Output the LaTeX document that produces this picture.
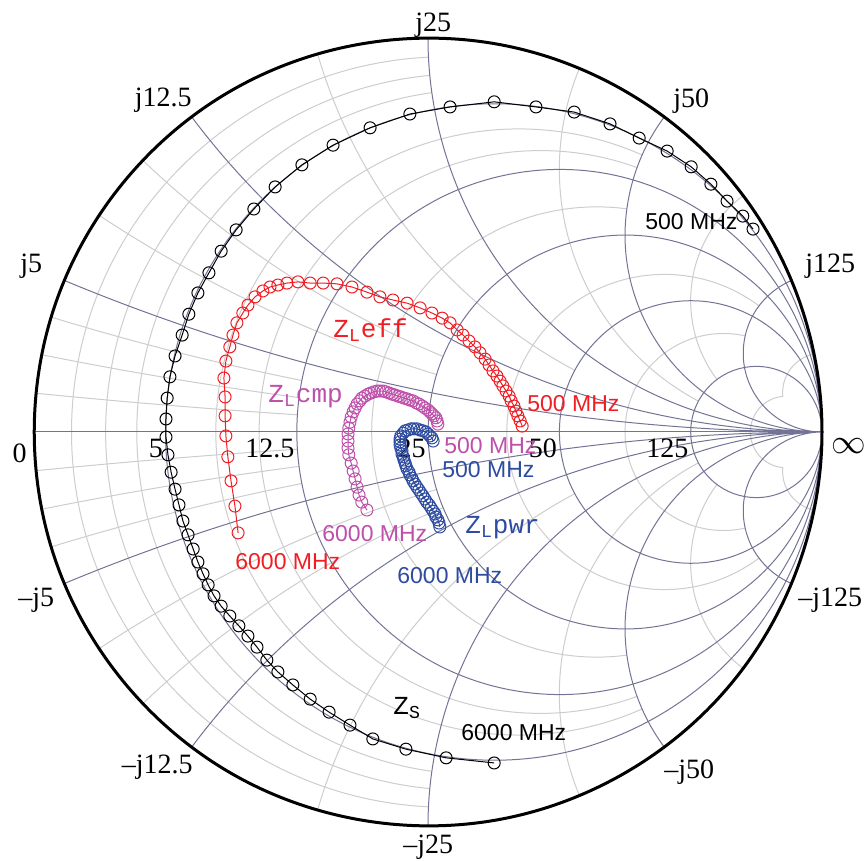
\documentclass[border=0pt]{standalone}
\usepackage{pgfplots}
\pgfplotsset{compat=1.18}
\usepgfplotslibrary{smithchart}
\usepackage{fontspec}
\setmainfont{Liberation Serif}
\newfontfamily\hv{Liberation Sans}
\newfontfamily\cour{Liberation Mono}
\definecolor{zred}{RGB}{240,30,36}
\definecolor{zmag}{RGB}{190,80,170}
\definecolor{zblue}{RGB}{45,75,160}
\definecolor{gridmaj}{RGB}{115,115,150}
\definecolor{gridmin}{RGB}{205,205,205}
\begin{document}
\begin{tikzpicture}
% light (minor) grid under the chart, in reflection-coefficient units
\begin{scope}[shift={(197pt,197pt)}, x=197pt, y=197pt, color=gridmin, line width=0.5pt]
\clip (0,0) circle (1);
% resistance circles r = 0.05, 0.1, 0.15 (|x| <= 1)
\begin{scope}
\clip (-1.2,-1.2) -- (-1.2,1.2) -- (1.2,1.2) -- (1.2,-1.2) -- cycle (1,1) circle (1) (1,-1) circle (1);
\draw ({0.05/1.05},0) circle ({1/1.05});
\draw ({0.1/1.1},0) circle ({1/1.1});
\draw ({0.15/1.15},0) circle ({1/1.15});
\end{scope}
% r = 0.3, 0.4, 0.75 (|x| <= 2)
\begin{scope}
\clip (-1.2,-1.2) -- (-1.2,1.2) -- (1.2,1.2) -- (1.2,-1.2) -- cycle (1,0.5) circle (0.5) (1,-0.5) circle (0.5);
\draw ({0.3/1.3},0) circle ({1/1.3});
\draw ({0.4/1.4},0) circle ({1/1.4});
\draw ({0.75/1.75},0) circle ({1/1.75});
\end{scope}
% r = 1.5, 3 (|x| <= 5)
\begin{scope}
\clip (-1.2,-1.2) -- (-1.2,1.2) -- (1.2,1.2) -- (1.2,-1.2) -- cycle (1,0.2) circle (0.2) (1,-0.2) circle (0.2);
\draw (0.6,0) circle (0.4);
\draw (0.75,0) circle (0.25);
\end{scope}
% r = 10 (|x| <= 10)
\begin{scope}
\clip (-1.2,-1.2) -- (-1.2,1.2) -- (1.2,1.2) -- (1.2,-1.2) -- cycle (1,0.1) circle (0.1) (1,-0.1) circle (0.1);
\draw ({10/11},0) circle ({1/11});
\end{scope}
% reactance arcs x = +-0.05, +-0.1, +-0.15 (r <= 0.5)
\begin{scope}
\clip (-1.2,-1.2) -- (-1.2,1.2) -- (1.2,1.2) -- (1.2,-1.2) -- cycle ({1/3},0) circle ({2/3});
\draw (1,20) circle (20) (1,-20) circle (20);
\draw (1,10) circle (10) (1,-10) circle (10);
\draw (1,{1/0.15}) circle ({1/0.15}) (1,{-1/0.15}) circle ({1/0.15});
\end{scope}
% x = +-0.3, +-0.4 (r <= 1)
\begin{scope}
\clip (-1.2,-1.2) -- (-1.2,1.2) -- (1.2,1.2) -- (1.2,-1.2) -- cycle (0.5,0) circle (0.5);
\draw (1,{1/0.3}) circle ({1/0.3}) (1,{-1/0.3}) circle ({1/0.3});
\draw (1,2.5) circle (2.5) (1,-2.5) circle (2.5);
\end{scope}
% x = +-0.75 (r <= 2)
\begin{scope}
\clip (-1.2,-1.2) -- (-1.2,1.2) -- (1.2,1.2) -- (1.2,-1.2) -- cycle ({2/3},0) circle ({1/3});
\draw (1,{1/0.75}) circle ({1/0.75}) (1,{-1/0.75}) circle ({1/0.75});
\end{scope}
% x = +-1.5, +-3 (r <= 5)
\begin{scope}
\clip (-1.2,-1.2) -- (-1.2,1.2) -- (1.2,1.2) -- (1.2,-1.2) -- cycle ({5/6},0) circle ({1/6});
\draw (1,{2/3}) circle ({2/3}) (1,{-2/3}) circle ({2/3});
\draw (1,{1/3}) circle ({1/3}) (1,{-1/3}) circle ({1/3});
\end{scope}
% x = +-10 (r <= 10)
\begin{scope}
\clip (-1.2,-1.2) -- (-1.2,1.2) -- (1.2,1.2) -- (1.2,-1.2) -- cycle ({10/11},0) circle ({1/11});
\draw (1,0.1) circle (0.1) (1,-0.1) circle (0.1);
\end{scope}
\end{scope}
% main chart
\begin{smithchart}[
  width=394pt,
  scale only axis,
  xtick={0.2,0.5,1,2,5},
  xticklabels={5,12.5,25,50,125},
  ytick={-5,-2,-1,-0.5,-0.2,0.2,0.5,1,2,5},
  yticklabels={},
  major tick length=0pt, minor tick length=0pt,
  ticklabel style={font=\fontsize{14}{16}\selectfont},
  xticklabel style={anchor=base east, inner sep=0pt, yshift=-13pt, xshift=-1pt},
  major grid style={draw=gridmaj, line width=0.5pt},
  y axis line style={line width=1.5pt, black},
  x axis line style={line width=0.5pt, gridmaj},
  clip=false,
]
% Z_S
\addplot[is smithchart cs, black, line width=0.5pt, mark=o, mark size=3pt, mark options={line width=0.5pt}] coordinates {
(0.825,0.515)(0.799,0.548)(0.759,0.586)(0.718,0.629)(0.668,0.673)(0.607,0.713)(0.536,0.746)(0.462,0.782)(0.371,0.812)(0.274,0.825)
(0.168,0.838)(0.056,0.825)(-0.046,0.807)(-0.147,0.772)(-0.241,0.728)(-0.320,0.678)(-0.388,0.622)(-0.442,0.566)(-0.487,0.513)(-0.525,0.459)
(-0.556,0.404)(-0.584,0.353)(-0.607,0.299)(-0.624,0.246)(-0.642,0.193)(-0.655,0.140)(-0.662,0.086)(-0.665,0.033)
(-0.665,-0.013)(-0.660,-0.058)(-0.652,-0.102)(-0.642,-0.145)(-0.632,-0.185)(-0.622,-0.226)(-0.609,-0.261)(-0.596,-0.297)(-0.584,-0.330)(-0.571,-0.360)
(-0.558,-0.388)(-0.543,-0.416)(-0.525,-0.442)(-0.503,-0.467)(-0.480,-0.492)(-0.457,-0.518)(-0.434,-0.546)(-0.409,-0.579)(-0.381,-0.609)(-0.343,-0.642)
(-0.299,-0.678)(-0.251,-0.711)(-0.198,-0.744)(-0.140,-0.779)(-0.056,-0.805)(0.046,-0.827)(0.168,-0.840)
};
% Z_L eff
\addplot[is smithchart cs, zred, line width=0.5pt, mark=o, mark size=3pt, mark options={line width=0.5pt}] coordinates {
(0.239,0.015)(0.234,0.028)(0.228,0.041)(0.223,0.053)(0.218,0.066)(0.211,0.079)(0.206,0.091)(0.198,0.104)(0.190,0.117)(0.183,0.129)
(0.175,0.142)(0.165,0.155)(0.155,0.170)(0.145,0.185)(0.132,0.201)(0.119,0.216)(0.104,0.231)(0.089,0.246)(0.074,0.259)(0.056,0.277)
(0.036,0.289)(0.010,0.302)(-0.020,0.315)(-0.053,0.327)(-0.089,0.335)(-0.122,0.343)(-0.155,0.355)(-0.193,0.368)(-0.231,0.376)(-0.266,0.378)
(-0.299,0.378)(-0.330,0.381)(-0.358,0.378)(-0.381,0.373)(-0.401,0.368)(-0.419,0.358)(-0.439,0.343)(-0.457,0.322)(-0.470,0.302)(-0.485,0.277)
(-0.495,0.246)(-0.503,0.216)(-0.513,0.180)(-0.518,0.137)(-0.515,0.089)(-0.515,0.041)(-0.513,-0.010)(-0.508,-0.063)(-0.500,-0.124)(-0.490,-0.188)
(-0.482,-0.256)
};
% Z_L cmp
\addplot[is smithchart cs, zmag, line width=0.5pt, mark=o, mark size=3pt, mark options={line width=0.5pt}] coordinates {
(0.025,0.020)(0.023,0.028)(0.020,0.036)(0.015,0.041)(0.010,0.046)(0.005,0.051)(0.000,0.056)(-0.008,0.061)(-0.015,0.066)(-0.023,0.071)
(-0.030,0.074)(-0.038,0.079)(-0.046,0.081)(-0.053,0.084)(-0.061,0.086)(-0.069,0.089)(-0.076,0.091)(-0.084,0.094)(-0.091,0.096)(-0.099,0.099)
(-0.107,0.102)(-0.114,0.104)(-0.122,0.104)(-0.129,0.104)(-0.137,0.102)(-0.145,0.099)(-0.152,0.096)(-0.160,0.091)(-0.168,0.086)(-0.173,0.079)
(-0.180,0.071)(-0.185,0.061)(-0.190,0.051)(-0.195,0.038)(-0.198,0.025)(-0.201,0.010)(-0.203,-0.005)(-0.203,-0.023)(-0.203,-0.041)(-0.201,-0.058)
(-0.195,-0.079)(-0.190,-0.099)(-0.185,-0.119)(-0.180,-0.140)(-0.175,-0.160)(-0.168,-0.178)(-0.155,-0.198)
};
% Z_L pwr
\addplot[is smithchart cs, zblue, line width=0.5pt, mark=o, mark size=3pt, mark options={line width=0.5pt}] coordinates {
(0.013,-0.023)(0.010,-0.015)(0.005,-0.010)(0.000,-0.005)(-0.005,0.000)(-0.013,0.003)(-0.020,0.005)(-0.028,0.008)(-0.036,0.008)(-0.043,0.008)
(-0.051,0.005)(-0.058,0.003)(-0.063,-0.003)(-0.069,-0.010)(-0.071,-0.018)(-0.071,-0.025)(-0.071,-0.033)(-0.069,-0.041)(-0.066,-0.048)(-0.066,-0.056)
(-0.063,-0.063)(-0.061,-0.071)(-0.058,-0.079)(-0.056,-0.086)(-0.053,-0.094)(-0.048,-0.102)(-0.046,-0.109)(-0.041,-0.117)(-0.038,-0.124)(-0.033,-0.132)
(-0.028,-0.140)(-0.023,-0.147)(-0.018,-0.155)(-0.013,-0.162)(-0.008,-0.170)(-0.003,-0.178)(0.003,-0.185)(0.008,-0.193)(0.013,-0.201)(0.018,-0.208)
(0.020,-0.216)(0.025,-0.223)(0.028,-0.231)(0.030,-0.241)
};
\coordinate (C) at (axis cs:1,0);
% left/right ends of real axis
\node[anchor=base east, inner sep=0pt, font=\fontsize{14}{16}\selectfont] at ([xshift=-200.5pt,yshift=-15.5pt]axis cs:1,0) {0};
\node[anchor=west, inner sep=0pt, font=\fontsize{16}{16}\selectfont] at ([xshift=201.5pt,yshift=-7pt]axis cs:1,0) {$\infty$};
% reactance labels
\node[anchor=base west, inner sep=0pt, font=\fontsize{14}{16}\selectfont] at ([xshift=-6.5pt,yshift=200pt]axis cs:1,0) {j25};
\node[anchor=base west, inner sep=0pt, font=\fontsize{14}{16}\selectfont] at ([xshift=-12.5pt,yshift=-210.5pt]axis cs:1,0) {\textendash j25};
\node[anchor=base east, inner sep=0pt, font=\fontsize{14}{16}\selectfont] at ([xshift=-118pt,yshift=162.5pt]axis cs:1,0) {j12.5};
\node[anchor=base west, inner sep=0pt, font=\fontsize{14}{16}\selectfont] at ([xshift=122.5pt,yshift=162pt]axis cs:1,0) {j50};
\node[anchor=base west, inner sep=0pt, font=\fontsize{14}{16}\selectfont] at ([xshift=-204pt,yshift=79.5pt]axis cs:1,0) {j5};
\node[anchor=base west, inner sep=0pt, font=\fontsize{14}{16}\selectfont] at ([xshift=188.5pt,yshift=79.5pt]axis cs:1,0) {j125};
\node[anchor=base west, inner sep=0pt, font=\fontsize{14}{16}\selectfont] at ([xshift=-205pt,yshift=-87.5pt]axis cs:1,0) {\textendash j5};
\node[anchor=base west, inner sep=0pt, font=\fontsize{14}{16}\selectfont] at ([xshift=185pt,yshift=-87.5pt]axis cs:1,0) {\textendash j125};
\node[anchor=base east, inner sep=0pt, font=\fontsize{14}{16}\selectfont] at ([xshift=-117.5pt,yshift=-170.5pt]axis cs:1,0) {\textendash j12.5};
\node[anchor=base west, inner sep=0pt, font=\fontsize{14}{16}\selectfont] at ([xshift=118pt,yshift=-173pt]axis cs:1,0) {\textendash j50};
% annotations
\node[anchor=base west, inner sep=0pt, font=\hv\fontsize{11.5}{12}\selectfont] at ([xshift=108.5pt,yshift=101pt]axis cs:1,0) {500 MHz};
\node[anchor=base west, inner sep=0pt, text=zred, font=\hv\fontsize{11.5}{12}\selectfont] at ([xshift=49.5pt,yshift=10pt]axis cs:1,0) {500 MHz};
\node[anchor=base west, inner sep=0pt, text=zmag, font=\hv\fontsize{11.5}{12}\selectfont] at ([xshift=8pt,yshift=-11pt]axis cs:1,0) {500 MHz};
\node[anchor=base west, inner sep=0pt, text=zblue, font=\hv\fontsize{11.5}{12}\selectfont] at ([xshift=7pt,yshift=-23pt]axis cs:1,0) {500 MHz};
\node[anchor=base west, inner sep=0pt, text=zmag, font=\hv\fontsize{11.5}{12}\selectfont] at ([xshift=-53pt,yshift=-55pt]axis cs:1,0) {6000 MHz};
\node[anchor=base west, inner sep=0pt, text=zred, font=\hv\fontsize{11.5}{12}\selectfont] at ([xshift=-96.5pt,yshift=-69pt]axis cs:1,0) {6000 MHz};
\node[anchor=base west, inner sep=0pt, text=zblue, font=\hv\fontsize{11.5}{12}\selectfont] at ([xshift=-15.5pt,yshift=-76pt]axis cs:1,0) {6000 MHz};
\node[anchor=base west, inner sep=0pt, font=\hv\fontsize{11.5}{12}\selectfont] at ([xshift=16.5pt,yshift=-154pt]axis cs:1,0) {6000 MHz};
\node[anchor=base west, inner sep=0pt, text=zred, font=\cour\fontsize{13}{14}\selectfont] at ([xshift=-47.5pt,yshift=47pt]axis cs:1,0) {Z\textsubscript{L}eff};
\node[anchor=base west, inner sep=0pt, text=zmag, font=\cour\fontsize{13}{14}\selectfont] at ([xshift=-80pt,yshift=14.5pt]axis cs:1,0) {Z\textsubscript{L}cmp};
\node[anchor=base west, inner sep=0pt, text=zblue, font=\cour\fontsize{13}{14}\selectfont] at ([xshift=18.5pt,yshift=-51pt]axis cs:1,0) {Z\textsubscript{L}pwr};
\node[anchor=base west, inner sep=0pt, font=\cour\fontsize{13}{14}\selectfont] at ([xshift=-17.5pt,yshift=-141.5pt]axis cs:1,0) {Z\textsubscript{S}};
\end{smithchart}
\pgfresetboundingbox
\path ([shift={(-214pt,-214.5pt)}]C) rectangle ([shift={(219.5pt,216pt)}]C);
\end{tikzpicture}
\end{document}
